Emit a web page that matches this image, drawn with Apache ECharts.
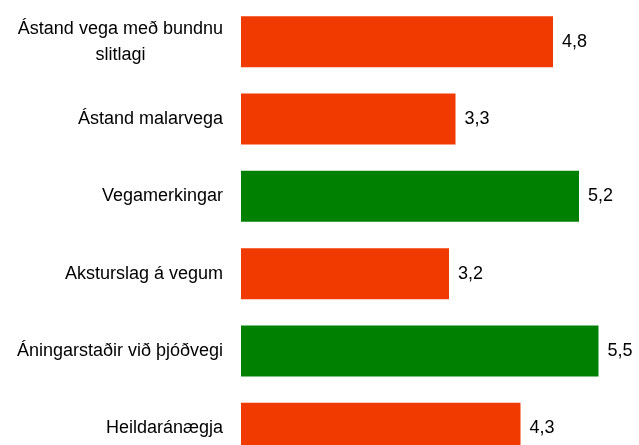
<!DOCTYPE html>
<html>
<head>
<meta charset="utf-8">
<script src="https://cdn.jsdelivr.net/npm/echarts@6/dist/echarts.min.js"></script>
<style>
html, body { margin: 0; padding: 0; background: #ffffff; }
#chart { width: 639px; height: 445px; }
</style>
</head>
<body>
<div id="chart"></div>
<script>
// flokkar og gildi
var categories = ['Ástand vega með bundnu slitlagi', 'Ástand malarvega', 'Vegamerkingar', 'Aksturslag á vegum', 'Áningarstaðir við þjóðvegi', 'Heildaránægja'];
var values = [4.8, 3.3, 5.2, 3.2, 5.5, 4.3];
var barColors = ['#f03a00', '#f03a00', '#008000', '#f03a00', '#008000', '#f03a00'];

var chart = echarts.init(document.getElementById('chart'));

var fontName = '"Liberation Sans Narrow", "Arial Narrow", "Liberation Sans", sans-serif';

// brjóta langa texta á orðum (max stafir í línu), línur miðjaðar
function wrapLabel(text, maxChars) {
	var words = text.split(' ');
	var lines = [];
	var cur = '';
	words.forEach(function (w) {
		if (cur && (cur + ' ' + w).length > maxChars) {
			lines.push(cur);
			cur = w;
		} else {
			cur = cur ? cur + ' ' + w : w;
		}
	});
	if (cur) lines.push(cur);
	return lines.map(function (l) { return '{c|' + l + '}'; }).join('\n');
}

chart.setOption({
	backgroundColor: '#ffffff',
	animation: false,
	grid: {
		left: 241,
		top: 3,
		width: 390,
		height: 464,
		outerBoundsMode: 'none',
		containLabel: false
	},
	xAxis: {
		type: 'value',
		min: 0,
		max: 6,
		show: false
	},
	yAxis: {
		type: 'category',
		inverse: true,
		data: categories,
		axisLine: { show: false },
		axisTick: { show: false },
		axisLabel: {
			margin: 18,
			fontFamily: fontName,
			fontSize: 18,
			color: '#000000',
			align: 'right',
			formatter: function (v) {
				return wrapLabel(v, 26);
			},
			rich: {
				c: {
					align: 'center',
					fontFamily: fontName,
					fontSize: 18,
					lineHeight: 26,
					color: '#000000'
				}
			}
		}
	},
	series: [{
		type: 'bar',
		barWidth: 51,
		data: values.map(function (v, i) {
			return { value: v, itemStyle: { color: barColors[i] } };
		}),
		label: {
			show: true,
			position: 'right',
			distance: 9,
			fontFamily: fontName,
			fontSize: 18,
			color: '#000000',
			formatter: function (p) {
				return p.value.toFixed(1).replace('.', ',');
			}
		}
	}]
});
</script>
</body>
</html>
